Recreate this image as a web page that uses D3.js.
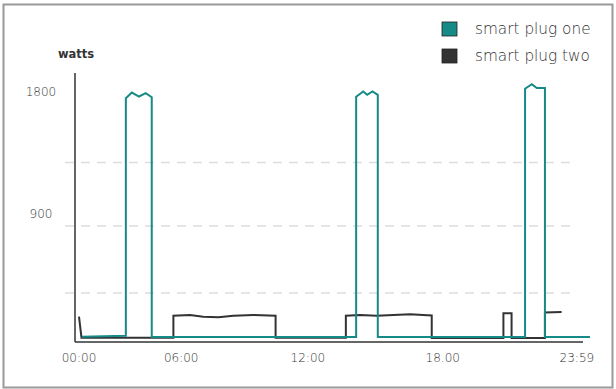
<!DOCTYPE html>
<html>
<head>
<meta charset="utf-8">
<script src="https://cdnjs.cloudflare.com/ajax/libs/d3/7.8.5/d3.min.js"></script>
<style>
    body { margin: 0; background: #fff; }
    #chart { width: 616px; height: 389px; }
    text { font-family: "DejaVu Sans", sans-serif; fill: #333; }
    .axisLabel { font-size: 12px; font-weight: 200; }
    .legendLabel { font-size: 15.3px; font-weight: 200; }
    .unitLabel { font-size: 11.5px; font-weight: bold; fill: #333; }
</style>
</head>
<body>
<div id="chart"></div>
<script>

// minutes after midnight, watts
const plugOneTime = [8, 132, 132, 149, 169, 188, 205, 205, 781, 781, 801, 812, 827, 842, 842, 1257, 1257, 1276, 1290, 1313, 1313, 1440];
const plugOneWatts = [10, 17, 1765, 1806, 1777, 1802, 1772, 8, 8, 1775, 1814, 1789, 1814, 1789, 8, 8, 1834, 1868, 1839, 1839, 8, 8];

const plugTwoTime = [0, 7, 266, 266, 313, 350, 393, 435, 491, 554, 554, 752, 752, 792, 839, 886, 933, 970, 994, 994, 1196, 1196, 1219, 1219, 1313, 1313, 1360];
const plugTwoWatts = [157, 2, 2, 164, 169, 157, 152, 164, 169, 164, 2, 2, 164, 169, 164, 169, 175, 169, 166, 0, 0, 182, 182, 0, 0, 188, 191];

const seriesNames = ["smart plug one", "smart plug two"];
const seriesColors = ["#168a86", "#333333"];

const yTickValues = [900, 1800];
const gridValues = [331, 825, 1291];

const xTickValues = [0, 288, 645, 1025, 1403];
const xTickLabels = ["00:00", "06:00", "12:00", "18.00", "23:59"];

const width = 616;
const height = 389;

const svg = d3.select("#chart")
    .append("svg")
    .attr("width", width)
    .attr("height", height);

// frame
svg.append("rect")
    .attr("x", 3.5)
    .attr("y", 4.5)
    .attr("width", 609)
    .attr("height", 383)
    .attr("fill", "#fff")
    .attr("stroke", "#999")
    .attr("stroke-width", 2);

const xScale = d3.scaleLinear()
    .domain([0, 1440])
    .range([79, 590]);

const yScale = d3.scaleLinear()
    .domain([0, 1950])
    .range([338, 73]);

// dashed grid
svg.selectAll(".grid")
    .data(gridValues)
    .enter()
    .append("line")
    .attr("class", "grid")
    .attr("x1", 65)
    .attr("x2", 572)
    .attr("y1", d => yScale(d))
    .attr("y2", d => yScale(d))
    .attr("stroke", "#ddd")
    .attr("stroke-width", 1.5)
    .attr("stroke-dasharray", "9,7");

// axes lines
const axisBottomY = yScale(0) + 4;
svg.append("line")
    .attr("x1", xScale(0) - 4).attr("x2", 583)
    .attr("y1", axisBottomY).attr("y2", axisBottomY)
    .attr("stroke", "#333").attr("stroke-width", 1.5);

svg.append("line")
    .attr("x1", xScale(0) - 4).attr("x2", xScale(0) - 4)
    .attr("y1", yScale(1950)).attr("y2", axisBottomY)
    .attr("stroke", "#333").attr("stroke-width", 1.5);

// y labels
svg.selectAll(".yLabel")
    .data(yTickValues)
    .enter()
    .append("text")
    .attr("class", "axisLabel")
    .attr("x", 41)
    .attr("y", d => yScale(d) - 2)
    .attr("dy", "0.35em")
    .attr("text-anchor", "middle")
    .text(d => d);

// x labels
svg.selectAll(".xLabel")
    .data(xTickValues)
    .enter()
    .append("text")
    .attr("class", "axisLabel")
    .attr("x", d => xScale(d))
    .attr("y", 358)
    .attr("dy", "0.35em")
    .attr("text-anchor", "middle")
    .text((d, i) => xTickLabels[i]);

svg.append("text")
    .attr("class", "unitLabel")
    .attr("x", 76)
    .attr("y", 54)
    .attr("dy", "0.35em")
    .attr("text-anchor", "middle")
    .text("watts");

// lines
const line = d3.line()
    .x(d => xScale(d[0]))
    .y(d => yScale(d[1]));

const plugTwo = d3.zip(plugTwoTime, plugTwoWatts);
const plugOne = d3.zip(plugOneTime, plugOneWatts);

svg.append("path")
    .datum(plugTwo)
    .attr("d", line)
    .attr("fill", "none")
    .attr("stroke", seriesColors[1])
    .attr("stroke-width", 2);

svg.append("path")
    .datum(plugOne)
    .attr("d", line)
    .attr("fill", "none")
    .attr("stroke", seriesColors[0])
    .attr("stroke-width", 2);

// legend
const legend = svg.selectAll(".legend")
    .data(seriesNames)
    .enter()
    .append("g")
    .attr("class", "legend")
    .attr("transform", (d, i) => `translate(442,${22 + i * 27})`);

legend.append("rect")
    .attr("width", 15)
    .attr("height", 14)
    .attr("fill", (d, i) => seriesColors[i])
    .attr("stroke", "#222")
    .attr("stroke-width", 0.8);

legend.append("text")
    .attr("class", "legendLabel")
    .attr("x", 33)
    .attr("y", 7)
    .attr("dy", "0.35em")
    .text(d => d);

</script>
</body>
</html>
